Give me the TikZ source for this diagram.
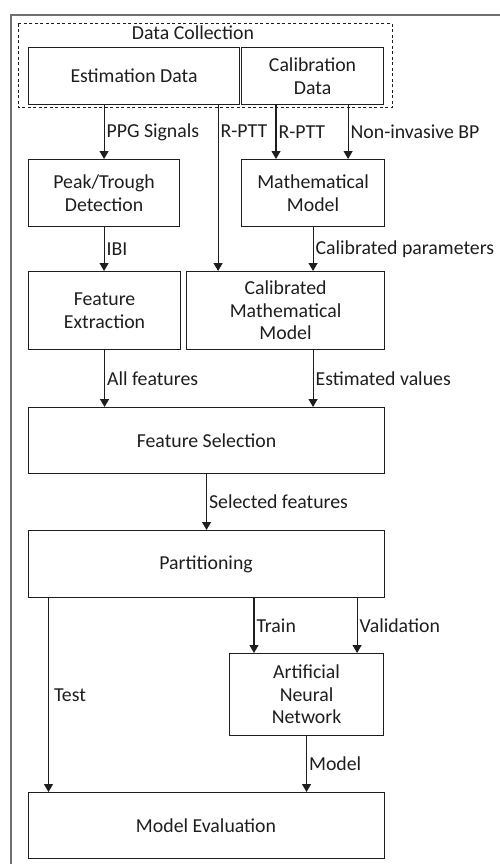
\documentclass[tikz,border=0pt]{standalone}
\usepackage{fontspec}
\setmainfont{Carlito}
\usetikzlibrary{arrows.meta}
\usetikzlibrary{calc}

\definecolor{framegray}{RGB}{112,112,112}
\definecolor{ink}{RGB}{30,30,30}

\tikzset{
  bloc/.style={draw=ink, line width=1.1pt, anchor=north west, align=center, inner sep=0pt, text=ink},
  flow/.style={-{Triangle[width=9pt,length=8pt]}, line width=1.1pt, draw=ink},
  lbl/.style={right, inner sep=2pt, text=ink},
}

\begin{document}
\begin{tikzpicture}[x=1pt,y=-1pt,font=\fontsize{19.8}{22.5}\selectfont]
        \useasboundingbox (0,0) rectangle (500,864);
        \clip (0,0) rectangle (500,864);
        \draw[framegray, line width=2pt] (11,880) -- (11,15) -- (520,15);

        % data collection
        \draw[ink, line width=1pt, dash pattern=on 3pt off 2.5pt] (18,24) rectangle (392,108);
        \node[text=ink] (dc) at (193,33) {Data Collection};
        \node[bloc, minimum width=211pt, minimum height=57pt] (est) at (28,47) {Estimation Data};
        \node[bloc, minimum width=142pt, minimum height=57pt] (cal) at (241,47) {Calibration\\Data};

        \node[bloc, minimum width=151pt, minimum height=67pt] (peak) at (28,159) {Peak/Trough\\Detection};
        \node[bloc, minimum width=143pt, minimum height=67pt] (mm) at (241,159) {Mathematical\\Model};
        \node[bloc, minimum width=152pt, minimum height=78pt] (fe) at (28,271) {Feature\\Extraction};
        \node[bloc, minimum width=198pt, minimum height=78pt] (cmm) at (186,271) {Calibrated\\Mathematical\\Model};
        \node[bloc, minimum width=356pt, minimum height=66pt] (fs) at (28,407) {Feature Selection};
        \node[bloc, minimum width=356pt, minimum height=67pt] (part) at (27.5,530) {Partitioning};
        \node[bloc, minimum width=154pt, minimum height=82pt] (ann) at (229,653) {Artificial\\Neural\\Network};
        \node[bloc, minimum width=356pt, minimum height=66pt] (me) at (27.5,792) {Model Evaluation};

        \coordinate (rptt) at ([xshift=-22pt]est.south east);
        \coordinate (test) at ([xshift=21pt]part.south west);

        \draw[flow] (est.south -| peak.north) -- node[lbl] {PPG Signals} (peak.north);
        \draw[flow] (rptt) -- node[lbl, pos=0.16] {R-PTT} (rptt |- cmm.north);
        \draw[flow] ([xshift=35pt]cal.south west) -- node[lbl] {R-PTT} ([xshift=35pt]mm.north west);
        \draw[flow] ([xshift=-36pt]cal.south east) -- node[lbl] {Non-invasive BP} ([xshift=-36pt]cal.south east |- mm.north);
        \draw[flow] (peak.south) -- node[lbl] {IBI} (peak.south |- fe.north);
        \draw[flow] (mm.south) -- node[lbl] {Calibrated parameters} (mm.south |- cmm.north);
        \draw[flow] (fe.south) -- node[lbl] {All features} (fe.south |- fs.north);
        \draw[flow] (cmm.south -| mm.south) -- node[lbl] {Estimated values} (fs.north -| mm.south);
        \draw[flow] (fs.south) -- node[lbl] {Selected features} (fs.south |- part.north);
        \draw[flow] (test) -- node[lbl, inner sep=5pt] {Test} (test |- me.north);
        \draw[flow] ([xshift=25pt]ann.north west |- part.south) -- node[lbl] {Train} ([xshift=25pt]ann.north west);
        \draw[flow] ([xshift=-27pt]ann.north east |- part.south) -- node[lbl] {Validation} ([xshift=-27pt]ann.north east);
        \draw[flow] (ann.south) -- node[lbl] {Model} (ann.south |- me.north);
\end{tikzpicture}
\end{document}
